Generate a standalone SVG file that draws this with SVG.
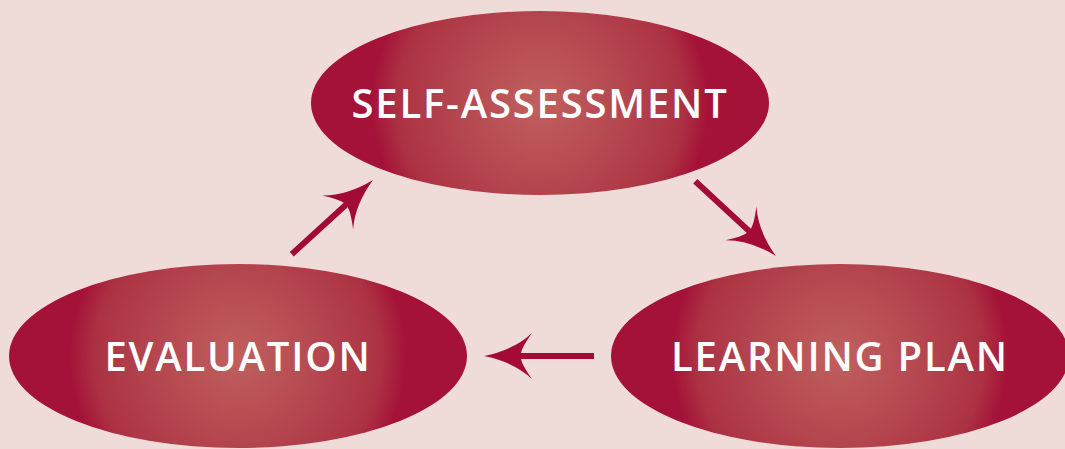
<svg xmlns="http://www.w3.org/2000/svg" xmlns:xlink="http://www.w3.org/1999/xlink" width="1065" height="449" viewBox="0 0 1065 449">
<style>
.lbl{font-family:"Open Sans","Liberation Sans",sans-serif;font-weight:600;font-size:40px;fill:#ffffff;text-anchor:middle;letter-spacing:1.8px}
.arr{fill:#A30A35}
</style>
<defs>
<radialGradient id="g" gradientUnits="userSpaceOnUse" cx="0" cy="0" r="168">
<stop offset="0" stop-color="#C0605E"/>
<stop offset="0.5" stop-color="#B4464F"/>
<stop offset="0.85" stop-color="#AC3243"/>
<stop offset="1" stop-color="#A51238"/>
</radialGradient>
<path id="arrow" d="M0,0 Q-30,-6 -48,-23 Q-38,-9 -37,-3 L-110,-3 L-110,3 L-37,3 Q-38,9 -48,23 Q-30,6 0,0 Z"/>
</defs>
<rect width="1065" height="449" fill="#EFDCD8"/>
<g id="self-assessment" transform="translate(540,103)">
<ellipse cx="0" cy="0" rx="229" ry="92" fill="url(#g)"/>
<text class="lbl" x="0" y="15">SELF-ASSESSMENT</text>
</g>
<g id="evaluation" transform="translate(238,356)">
<ellipse cx="0" cy="0" rx="229" ry="92" fill="url(#g)"/>
<text class="lbl" x="0" y="15">EVALUATION</text>
</g>
<g id="learning-plan" transform="translate(840,356)">
<ellipse cx="0" cy="0" rx="229" ry="92" fill="url(#g)"/>
<text class="lbl" x="0" y="15">LEARNING PLAN</text>
</g>
<g id="connectors" class="arr">
<use xlink:href="#arrow" transform="translate(373,180) rotate(-42.4)"/>
<use xlink:href="#arrow" transform="translate(776,256) rotate(42.8)"/>
<use xlink:href="#arrow" transform="translate(484,356) rotate(180)"/>
</g>
</svg>
